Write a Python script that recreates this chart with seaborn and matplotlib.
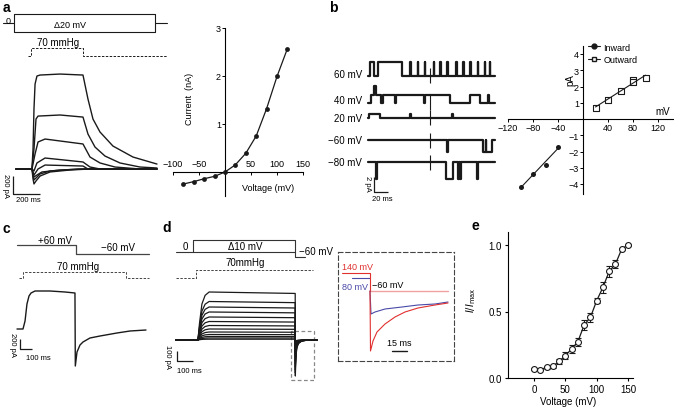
import matplotlib.pyplot as plt
import seaborn as sns
from matplotlib.lines import Line2D
from matplotlib.patches import Rectangle

# ---------------- data ----------------
# a: voltage family (display extremes), pressure pulse, current traces (ms, pA)
a_prot_t = [-81, 0, 0, 1044, 1044, 1133]
a_prot_v = [0, 0, 100, 100, 0, 0]
a_prot_low_t = [0, 0, 1044, 1044]
a_prot_low_v = [0, -100, -100, 0]
a_press_t = [104, 126, 126, 511, 511, 1133]
a_press = [0, 0, 70, 70, 0, 0]
a_traces = [
    ([15, 133, 141, 148, 156, 170, 193, 341, 511, 548, 585, 637, 733, 881, 1059],
     [0, 0, 222, 666, 944, 1033, 1044, 1055, 1044, 777, 555, 411, 255, 133, 55]),
    ([15, 133, 148, 163, 178, 341, 511, 548, 600, 674, 785, 933, 1059],
     [0, 0, 222, 555, 588, 600, 577, 388, 244, 144, 67, 22, 11]),
    ([15, 133, 156, 178, 230, 511, 563, 637, 748, 933, 1059],
     [0, 0, 167, 300, 333, 278, 133, 67, 22, 0, 0]),
    ([15, 133, 148, 170, 230, 511, 563, 637, 1059],
     [0, 0, -22, 67, 122, 78, 22, 0, 0]),
    ([15, 133, 148, 178, 230, 511, 548, 1059],
     [0, 0, -67, 0, 44, 33, 0, 0]),
    ([15, 133, 141, 148, 163, 193, 267, 415, 563, 1059],
     [0, 0, -111, -166, -133, -78, -33, -11, 0, 0]),
    ([15, 133, 148, 163, 193, 267, 474, 1059],
     [0, 0, -122, -100, -55, -22, 0, 0]),
    ([15, 133, 148, 170, 207, 341, 526, 1059],
     [0, 0, -89, -67, -33, -11, 0, 0]),
]
# a: I-V
a_iv_v = [-80, -60, -40, -20, 0, 20, 40, 60, 80, 100, 120]
a_iv_i = [-0.25, -0.2, -0.14, -0.09, 0.0, 0.15, 0.39, 0.75, 1.32, 1.99, 2.57]

# b: single-channel records, openings as (start ms, end ms, channels open)
b_labels = ["60 mV", "40 mV", "20 mV", "\u221260 mV", "\u221280 mV"]
b_amp = [1.9, 1.1, 0.5, -1.5, -2.3]
b_openings = [
    [(3, 8, 1), (14, 49, 1), (60, 60.8, 1), (71, 71.8, 1), (81, 81.8, 1), (94, 94.8, 1),
     (103, 103.8, 1), (113, 113.8, 1), (126, 126.8, 1), (136, 136.8, 1), (146, 146.8, 1),
     (157, 157.8, 1), (167, 167.8, 1), (174, 174.8, 1)],
    [(4, 8, 1), (8, 11, 2), (11, 19, 1), (21, 38, 1), (40, 80, 1), (82, 117, 1),
     (146, 160, 1), (172, 173, 1)],
    [(2, 17, 1), (60, 61, 1), (120, 121, 1)],
    [(113, 114.5, 1), (164, 168, 1), (169, 177, 1)],
    [(11, 12.5, 1), (112, 122, 1), (128, 130, 1), (131, 133, 1), (155, 156.5, 1)],
]
b_duration = 181
b_artifact_t = 89
# b: unitary I-V
b_in_v = [-100, -80, -60, -40]
b_in_i = [-4.2, -3.4, -2.8, -1.7]
b_out_v = [20, 40, 60, 80, 80, 100]
b_out_i = [0.7, 1.2, 1.7, 2.4, 2.3, 2.5]

# c: +60 -> -60 mV protocol, pressure, current
c_prot_t = [0, 492, 492, 1100]
c_prot_v = [60, 60, -60, -60]
c_press_t = [17, 50, 50, 908, 908, 1100]
c_press = [0, 0, 70, 70, 0, 0]
c_t = [0, 50, 67, 83, 100, 117, 150, 275, 400, 483, 486, 500, 525, 550, 608, 692, 833, 942, 1075]
c_i = [0, 0, 160, 500, 660, 720, 760, 760, 740, 720, -740, -460, -320, -260, -180, -140, -80, -40, -20]

# d: step family 0..150 mV, then -60 mV
d_prot_t = [0, 106, 106, 745, 745, 806]
d_prot_v = [0, 0, 150, 150, -60, -60]
d_prot_low_t = [106, 745]
d_prot_low_v = [0, 0]
d_press_t = [0, 125, 125, 856]
d_press = [0, 0, 70, 70]
d_onset, d_offset, d_end = 137, 745, 881
d_plateau = [480, 385, 330, 280, 230, 185, 145, 110, 80, 55, 35, 20, 8]
d_tail = [360, 330, 300, 270, 240, 210, 180, 150, 120, 90, 65, 40, 20]
d_rise_dt = [0, 10, 25, 45, 70]
d_rise_frac = [0, 0.35, 0.75, 0.93, 1.0]
d_sag_frac = 0.97
d_tail_dt = [1, 2, 5, 10, 20, 40, 80]
d_tail_frac = [1, 0.75, 0.45, 0.22, 0.1, 0.03, 0]
# d inset: tails at -60 mV after 140 / 80 mV
ins_red_t = [0, 0.5, 3, 7, 15, 25, 35, 48, 65, 78]
ins_red_i = [110, -490, -390, -300, -220, -150, -100, -60, -30, -10]
ins_blue_t = [0, 1, 5, 15, 32, 48, 65, 78]
ins_blue_i = [110, -120, -100, -70, -50, -30, -20, 0]

# e: normalised I-V
e_v = [0, 10, 20, 30, 40, 50, 60, 70, 80, 90, 100, 110, 120, 130, 140, 150]
e_i = [0.068, 0.063, 0.08, 0.088, 0.125, 0.168, 0.218, 0.273, 0.398, 0.456,
       0.581, 0.682, 0.802, 0.857, 0.97, 1.0]
e_err = [0.005, 0.005, 0.01, 0.01, 0.02, 0.025, 0.03, 0.03, 0.04, 0.035,
         0.02, 0.04, 0.04, 0.03, 0.01, 0.005]

# ---------------- style ----------------
sns.set_theme(style="ticks")
plt.rcParams["font.family"] = ["Liberation Sans", "DejaVu Sans"]
plt.rcParams.update({"axes.edgecolor": "black", "xtick.color": "black", "ytick.color": "black",
                     "text.color": "black", "axes.labelcolor": "black", "axes.linewidth": 0.8})

W, H = 674, 410
fig = plt.figure(figsize=(W / 100, H / 100), dpi=100)
LIMS = {}


def panel(rect, xref, yref, off=True):
    # rect in pixels (left, top, right, bottom); refs map two data values to pixels
    x0, y0, x1, y1 = rect
    ax = fig.add_axes([x0 / W, 1 - y1 / H, (x1 - x0) / W, (y1 - y0) / H])
    ax.patch.set_alpha(0)
    (u0, p0), (u1, p1) = xref
    k = (u1 - u0) / (p1 - p0)
    xl = (u0 + (x0 - p0) * k, u0 + (x1 - p0) * k)
    (u0, p0), (u1, p1) = yref
    k = (u1 - u0) / (p1 - p0)
    yl = (u0 + (y1 - p0) * k, u0 + (y0 - p0) * k)
    LIMS[ax] = (xl, yl)
    if off:
        ax.axis("off")
    return ax


def line(ax, x, y, color="k", lw=0.8, dashed=False):
    sns.lineplot(x=x, y=y, ax=ax, color=color, lw=lw, estimator=None, sort=False)
    if dashed:
        ax.lines[-1].set_linestyle((0, (2.5, 1.5)))


def txt(x, y, s, size=7, **kw):
    kw.setdefault("ha", "center")
    kw.setdefault("va", "center")
    fig.text(x / W, 1 - y / H, s, fontsize=size, **kw)


def scalebar(ax, x, y, dx, dy):
    ax.plot([x, x, x + dx], [y + dy, y, y], color="k", lw=0.9, solid_capstyle="butt")


def channel_trace(events, amp, end):
    t, y = [0.0], [0.0]
    for k, (s, e, n) in enumerate(events):
        t += [s, s, e]
        y += [y[-1], n * amp, n * amp]
        nxt = events[k + 1][0] if k + 1 < len(events) else None
        if nxt != e:
            t.append(e)
            y.append(0.0)
    t.append(end)
    y.append(0.0)
    return t, y


# ---------------- a ----------------
A_X = ((0, 14), (200, 41))
ax = panel((0, 10, 170, 38), A_X, ((0, 24), (100, 15)))
line(ax, a_prot_t, a_prot_v)
line(ax, a_prot_low_t, a_prot_low_v)
ax = panel((0, 38, 170, 62), A_X, ((0, 57), (70, 49)))
line(ax, a_press_t, a_press, lw=0.7, dashed=True)
ax = panel((0, 62, 170, 210), A_X, ((0, 170), (200, 152)))
for t, i in a_traces:
    line(ax, t, i, lw=1.0)
scalebar(ax, -7, -278, 200, 200)
txt(8, 21, "0", 6.5)
txt(70, 25, "\u039420 mV", 6.5)
txt(58, 43, "70 mmHg", 7)
txt(5, 186, "200 pA", 5.5, rotation=-90)
txt(28, 201, "200 ms", 5.5)

ax = panel((165, 22, 308, 200), ((0, 225), (150, 303)), ((0, 173), (3, 29)), off=False)
line(ax, a_iv_v, a_iv_i, lw=0.9)
sns.scatterplot(x=a_iv_v, y=a_iv_i, ax=ax, color="k", s=12, linewidth=0, zorder=3)
ax.spines["right"].set_visible(False)
ax.spines["left"].set_position(("data", 0))
ax.spines["left"].set_bounds(-0.5, 3)
ax.spines["bottom"].set_position(("data", 0))
ax.spines["bottom"].set_bounds(-100, 150)
ax.spines["top"].set_position(("data", 0))
ax.spines["top"].set_visible(False)
ax.set_xticks([-100, -50, 50, 100, 150])
ax.set_yticks([1, 2, 3])
ax.tick_params(axis="x", bottom=True, top=False, labelbottom=False, labeltop=True,
               length=2, width=0.7, pad=1, labelsize=6.5)
ax.tick_params(axis="y", length=2, width=0.7, pad=1, labelsize=6.5)
ax.set_ylabel("Current  (nA)", fontsize=6.5)
ax.yaxis.set_label_coords(0.2, 0.57)
ax.set_xlabel("Voltage (mV)", fontsize=6.5)
ax.xaxis.set_label_coords(0.72, 0.09)

# ---------------- b ----------------
b_row_offset = [11.5, 7.9, 5.9, 2.9, 0.0]
b_label_y = [75, 101, 119, 141, 163]
ax = panel((330, 55, 500, 205), ((0, 368), (20, 382)), ((0, 163), (2, 148)))
for lab, amp, ev, off, ly in zip(b_labels, b_amp, b_openings, b_row_offset, b_label_y):
    t, y = channel_trace(ev, amp, b_duration)
    line(ax, t, [v + off for v in y], lw=1.6)
    ax.vlines(b_artifact_t, off - 1.0, off + 1.0, color="k", lw=0.8)
    txt(362, ly, lab, 7, ha="right")
scalebar(ax, 8.6, -4, 20, 2)
txt(367, 184, "2 pA", 5.5, rotation=-90)
txt(382, 200, "20 ms", 5.5)

ax = panel((505, 42, 674, 200), ((0, 583), (120, 658)), ((0, 120), (4, 55)), off=False)
sns.regplot(x=b_in_v, y=b_in_i, ax=ax, ci=None, truncate=True, color="k", marker="o",
            scatter_kws=dict(s=13, alpha=1, linewidths=0), line_kws=dict(lw=0.8))
sns.regplot(x=b_out_v, y=b_out_i, ax=ax, ci=None, truncate=True, color="k", marker="s",
            scatter_kws=dict(s=13, alpha=1, color="white", edgecolor="k", linewidths=0.8),
            line_kws=dict(lw=0.8, color="k"))
ax.spines[["top", "right"]].set_visible(False)
ax.spines["left"].set_position(("data", 0))
ax.spines["left"].set_bounds(-4.6, 4.5)
ax.spines["bottom"].set_position(("data", 0))
ax.spines["bottom"].set_bounds(-120, 145)
ax.set_xticks([-120, -80, -40, 40, 80, 120])
ax.set_yticks([-4, -3, -2, -1, 1, 2, 3, 4])
ax.tick_params(length=2, width=0.7, pad=1, labelsize=6.5)
ax.set_xlabel("")
ax.set_ylabel("")
handles = [Line2D([], [], color="k", lw=0.8, marker="o", ms=3.5),
           Line2D([], [], color="k", lw=0.8, marker="s", ms=3.5, mfc="white")]
ax.legend(handles, ["Inward", "Outward"], loc="upper left", bbox_to_anchor=(0.49, 0.99),
          frameon=False, fontsize=6.5, handlelength=1.3, handletextpad=0.4,
          labelspacing=0.35, borderpad=0, borderaxespad=0)
txt(663, 112, "mV", 7)
txt(570, 80, "pA", 7, rotation=90)

# ---------------- c ----------------
C_X = ((0, 17), (100, 29))
ax = panel((10, 238, 160, 262), C_X, ((60, 246), (-60, 255)))
line(ax, c_prot_t, c_prot_v, color="#444444", lw=0.9)
ax = panel((10, 262, 160, 285), C_X, ((0, 279), (70, 273)))
line(ax, c_press_t, c_press, color="#444444", lw=0.7, dashed=True)
ax = panel((10, 285, 160, 380), C_X, ((0, 330), (200, 320)))
line(ax, c_t, c_i, lw=1.0)
scalebar(ax, 25, -400, 100, 200)
txt(55, 241, "+60 mV", 7)
txt(118, 248, "\u221260 mV", 7)
txt(78, 267, "70 mmHg", 7)
txt(12, 345, "200 pA", 5.5, rotation=-90)
txt(38, 359, "100 ms", 5.5)

# ---------------- d ----------------
D_X = ((0, 176), (100, 192))
ax = panel((170, 236, 330, 262), D_X, ((0, 253), (150, 241)))
line(ax, d_prot_t, d_prot_v, color="#333333", lw=0.8)
line(ax, d_prot_low_t, d_prot_low_v, color="#333333", lw=0.8)
ax = panel((170, 262, 330, 285), D_X, ((0, 279), (70, 271)))
line(ax, d_press_t, d_press, color="#444444", lw=0.7, dashed=True)
ax = panel((170, 285, 330, 390), D_X, ((0, 341), (100, 331)))
for p, q in zip(d_plateau, d_tail):
    t = [0, d_onset] + [d_onset + dt for dt in d_rise_dt] + [d_offset] \
        + [d_offset + dt for dt in d_tail_dt] + [d_end]
    i = [0, 0] + [p * f for f in d_rise_frac] + [p * d_sag_frac] \
        + [-q * f for f in d_tail_frac] + [0]
    line(ax, t, i, lw=0.9)
ax.add_patch(Rectangle((719, -400), 143, 490, fill=False, ec="#888888", lw=0.9,
                       ls=(0, (3, 2))))
scalebar(ax, 6, -210, 100, 100)
txt(185, 247, "0", 7)
txt(245, 247, "\u039410 mV", 7)
txt(316, 252, "\u221260 mV", 7)
txt(245, 263, "70mmHg", 7)
txt(167, 357, "100 pA", 5.5, rotation=-90)
txt(189, 372, "100 ms", 5.5)

# inset
INS_X = ((0, 370), (15, 385))
ax = panel((338, 253, 454, 362), INS_X, ((140, 274), (-60, 292)), off=False)
ax.set_xticks([])
ax.set_yticks([])
for s in ax.spines.values():
    s.set_visible(True)
    s.set_linestyle((0, (4, 2.5)))
    s.set_linewidth(0.8)
    s.set_color("#444444")
line(ax, [0, 78], [-60, -60], color="#f0a0a0", lw=1.0)
line(ax, [-18, 0], [80, 80], color="#4a4aa8", lw=0.8)
line(ax, [-28, 0, 0], [140, 140, -60], color="#e0302f", lw=0.8)
ax = panel((338, 253, 454, 362), INS_X, ((0, 303), (-100, 313)))
line(ax, ins_blue_t, ins_blue_i, color="#4a4aa8", lw=0.8)
line(ax, ins_red_t, ins_red_i, color="#e0302f", lw=0.8)
ax.plot([22, 37], [-490, -490], color="k", lw=1.0)
txt(342, 268, "140 mV", 6.5, color="#e0302f", ha="left")
txt(342, 288, "80 mV", 6.5, color="#4a4aa8", ha="left")
txt(388, 286, "\u221260 mV", 6.5)
txt(399, 344, "15 ms", 6.5)

# ---------------- e ----------------
ax = panel((508, 233, 633, 379), ((0, 534), (150, 628)), ((0, 379), (1, 246)), off=False)
line(ax, e_v, e_i, lw=0.9)
ax.errorbar(e_v, e_i, yerr=e_err, fmt="none", ecolor="k", elinewidth=0.8, capsize=2, capthick=0.8)
sns.scatterplot(x=e_v, y=e_i, ax=ax, marker="o", s=18, color="white", edgecolor="k",
                linewidth=0.8, zorder=3)
ax.spines[["top", "right"]].set_visible(False)
ax.set_xticks([0, 50, 100, 150])
ax.set_yticks([0.0, 0.5, 1.0])
ax.set_yticklabels(["0.0", "0.5", "1.0"])
ax.tick_params(length=2.5, width=0.8, pad=2, labelsize=7)
ax.set_xlabel("Voltage (mV)", fontsize=7)
ax.xaxis.set_label_coords(0.48, -0.12)
ax.set_ylabel(r"$I/I_{\rm max}$", fontsize=7)
ax.yaxis.set_label_coords(-0.24, 0.54)

# panel letters
for lab, x, y in [("a", 6, 8), ("b", 333, 8), ("c", 6, 229), ("d", 167, 228), ("e", 475, 226)]:
    txt(x, y, lab, 10, fontweight="bold")

for a, (xl, yl) in LIMS.items():
    a.set_xlim(xl)
    a.set_ylim(yl)

fig.savefig("out.png", dpi=100)
